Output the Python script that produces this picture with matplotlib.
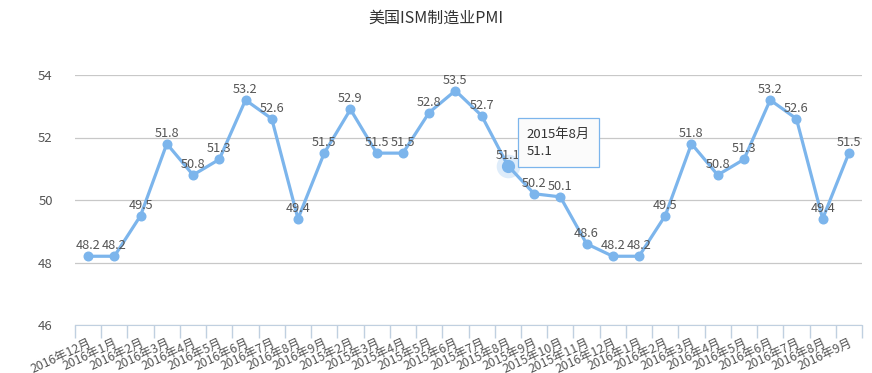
import numpy as np
import matplotlib.pyplot as plt
from matplotlib.ticker import FixedLocator

plt.rcParams['font.family'] = ['Noto Sans CJK SC', 'DejaVu Sans']

# months as they appear on the category axis
months = ["2016年12月", "2016年1月", "2016年2月", "2016年3月", "2016年4月",
          "2016年5月", "2016年6月", "2016年7月", "2016年8月", "2016年9月",
          "2015年2月", "2015年3月", "2015年4月", "2015年5月", "2015年6月",
          "2015年7月", "2015年8月", "2015年9月", "2015年10月", "2015年11月",
          "2016年12月", "2016年1月", "2016年2月", "2016年3月", "2016年4月",
          "2016年5月", "2016年6月", "2016年7月", "2016年8月", "2016年9月"]
pmi = [48.2, 48.2, 49.5, 51.8, 50.8, 51.3, 53.2, 52.6, 49.4, 51.5,
       52.9, 51.5, 51.5, 52.8, 53.5, 52.7, 51.1, 50.2, 50.1, 48.6,
       48.2, 48.2, 49.5, 51.8, 50.8, 51.3, 53.2, 52.6, 49.4, 51.5]
yticks = [46, 48, 50, 52, 54]
hover = 16  # the point with the tooltip

line_color = "#7cb5ec"
x = np.arange(len(pmi))

fig = plt.figure(figsize=(8.72, 3.73), dpi=100)
ax = fig.add_axes([75 / 872, 48 / 373, 787 / 872, 250 / 373])

ax.plot(x, pmi, color=line_color, lw=2.3, marker="o", ms=6.2,
        mec=line_color, mfc=line_color, zorder=3, solid_joinstyle="round")

# hovered point: halo + bigger marker
ax.plot(x[hover], pmi[hover], "o", ms=17, color=line_color, alpha=0.25,
        mec="none", zorder=2)
ax.plot(x[hover], pmi[hover], "o", ms=8.5, color=line_color, zorder=4)

for xi, v in zip(x, pmi):
    ax.annotate(f"{v}", (xi, v), xytext=(0, 4), textcoords="offset pixels",
                ha="center", va="bottom", fontsize=9.2, color="#555555",
                zorder=5)

# tooltip
ax.annotate(f"2015年8月\n{pmi[hover]}", (x[hover], pmi[hover]),
            xytext=(19, 38), textcoords="offset pixels", ha="left",
            va="top", fontsize=9.5, color="#333333", linespacing=1.45,
            zorder=6,
            bbox=dict(boxstyle="square,pad=0.7", fc="#fbfbfb",
                      ec=line_color, lw=0.9))

ax.set_xlim(-0.5, len(pmi) - 0.5)
ax.set_ylim(yticks[0], yticks[-1])
ax.set_yticks(yticks)
ax.yaxis.grid(True, color="#c8c8c8", lw=0.9)
ax.set_axisbelow(True)
ax.tick_params(axis="y", length=0, pad=16, labelsize=9.5, labelcolor="#555555")

ax.set_xticks(x)
ax.set_xticklabels(months, rotation=25, ha="right", va="top",
                   rotation_mode="anchor", fontsize=8.8, color="#555555")
ax.tick_params(axis="x", which="major", length=0, pad=8)
ax.xaxis.set_minor_locator(FixedLocator(np.arange(-0.5, len(pmi), 1.0)))
ax.tick_params(axis="x", which="minor", length=9, color="#c0d0e0", width=1)

for s in ["top", "right", "left"]:
    ax.spines[s].set_visible(False)
ax.spines["bottom"].set_color("#c0d0e0")

fig.text(0.5, 1 - 18 / 373, "美国ISM制造业PMI", ha="center", va="center",
         fontsize=11.5, color="#333333")

fig.savefig("out.png", dpi=100)
